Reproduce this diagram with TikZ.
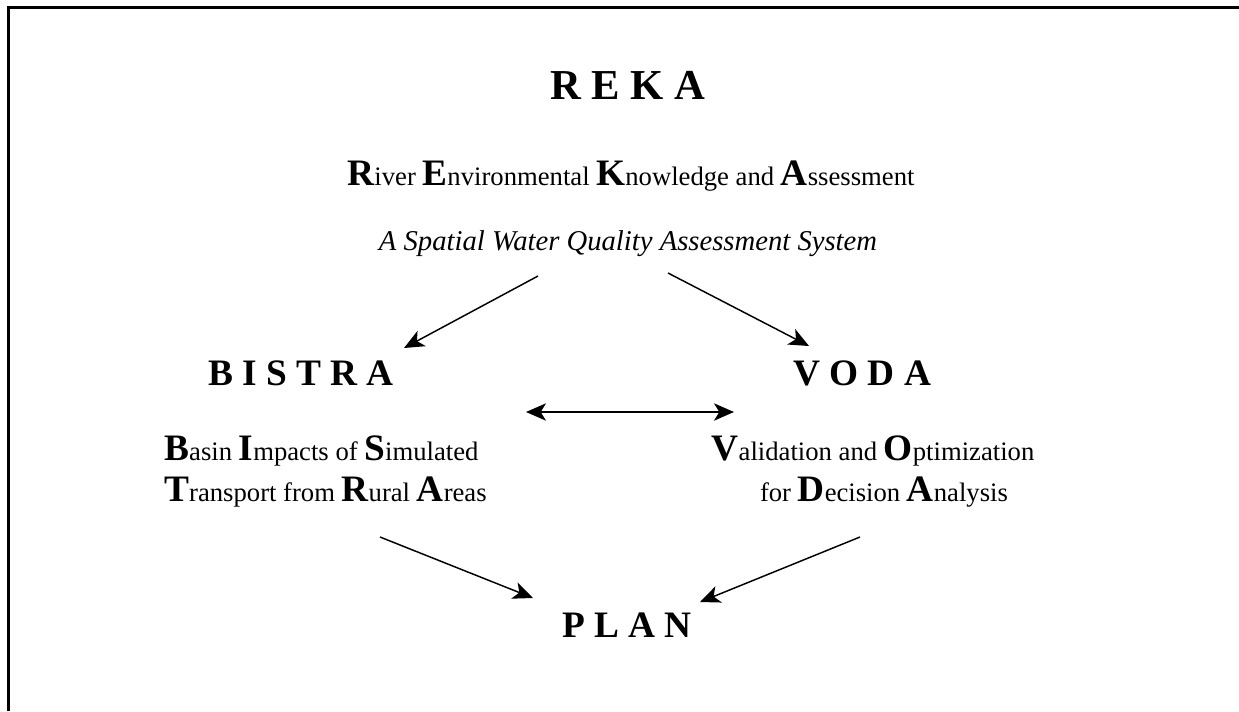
\documentclass[tikz,border=0pt]{standalone}
\usepackage{fontspec}
\setmainfont{Liberation Serif}
\usetikzlibrary{arrows.meta}
\newcommand\capL[1]{{\fontsize{28}{32}\selectfont\bfseries #1}}
\tikzset{
  title/.style={anchor=base, inner sep=0pt, font=\fontsize{28}{32}\selectfont\bfseries},
  desc/.style={anchor=base, inner sep=0pt, font=\fontsize{20}{24}\selectfont},
  conn/.style={line width=1.1pt, -{Stealth[length=15pt,width=13pt,inset=4pt]}},
  dconn/.style={line width=1.1pt, {Stealth[length=15pt,width=13pt,inset=4pt]}-{Stealth[length=15pt,width=13pt,inset=4pt]}},
}
\begin{document}
\begin{tikzpicture}[x=0.75pt,y=-0.75pt]
\useasboundingbox (0,0) rectangle (1239,711);
\draw[line width=2.25pt] (8.5,711) -- (8.5,7.5) -- (1239,7.5);

\node[title, font=\fontsize{32}{36}\selectfont\bfseries] (reka) at (628,99) {R E K A};
\node[desc] (rekad) at (631,185) {\capL{R}iver \capL{E}nvironmental \capL{K}nowledge and \capL{A}ssessment};
\node[desc, font=\fontsize{21.5}{25}\selectfont\itshape] (rekas) at (628,250) {A Spatial Water Quality Assessment System};

\node[title] (bistra) at (301,385) {B I S T R A};
\node[title] (voda) at (862,385) {V O D A};

\node[desc, anchor=base west] (bis1) at (164,460) {\capL{B}asin \capL{I}mpacts of \capL{S}imulated};
\node[desc, anchor=base west] (bis2) at (164,501) {\capL{T}ransport from \capL{R}ural \capL{A}reas};
\node[desc] (vod1) at (873,460) {\capL{V}alidation and \capL{O}ptimization};
\node[desc] (vod2) at (884,501) {for \capL{D}ecision \capL{A}nalysis};

\node[title] (plan) at (627,637) {P L A N};

\coordinate (a1s) at (538,276);
\coordinate (a1e) at (404,348);
\coordinate (a2s) at (668,273);
\coordinate (a2e) at (809,346);
\coordinate (a3s) at (526,412);
\coordinate (a3e) at (734,412);
\coordinate (a4s) at (380,537);
\coordinate (a4e) at (533,598);
\coordinate (a5s) at (860,537);
\coordinate (a5e) at (700,602);

\draw[conn] (a1s) -- (a1e);
\draw[conn] (a2s) -- (a2e);
\draw[dconn] (a3s) -- (a3e);
\draw[conn] (a4s) -- (a4e);
\draw[conn] (a5s) -- (a5e);
\end{tikzpicture}
\end{document}
